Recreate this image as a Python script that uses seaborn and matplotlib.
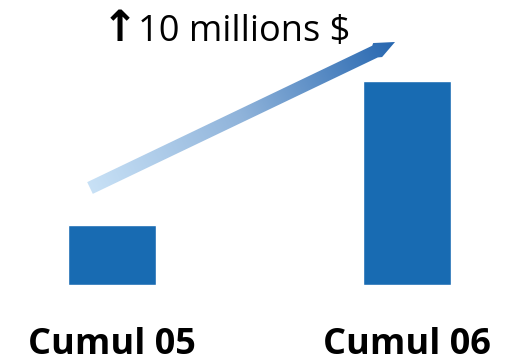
import numpy as np
import pandas as pd
import matplotlib
matplotlib.use("Agg")
import matplotlib.pyplot as plt
from matplotlib.patches import Polygon
import seaborn as sns

categories = ["Cumul 05", "Cumul 06"]
values = [4.2, 14.2]
annotation = "\u219110 millions $"

BAR_COLOR = "#186bb2"

sns.set_theme(style="white")
plt.rcParams["font.family"] = ["Open Sans", "DejaVu Sans"]

W, H = 510, 358
fig = plt.figure(figsize=(W / 100, H / 100), dpi=100)
fig.patch.set_facecolor("white")

# main bar axes
base_px = 285
ax = fig.add_axes([0, (H - base_px) / H, 1, base_px / H])
df = pd.DataFrame({"cat": categories, "val": values})
sns.barplot(data=df, x="cat", y="val", order=categories, color=BAR_COLOR,
            saturation=1, width=0.298, ax=ax)
spacing = 295.0
ax.set_xlim(-112 / spacing, 1 + (W - 407) / spacing)
ax.set_ylim(0, base_px * values[1] / 204.0)
ax.axis("off")

# category labels
for i, c in enumerate(categories):
    ax.text(i, -69 / base_px, c, transform=ax.get_xaxis_transform(), ha="center",
            va="baseline", fontsize=26, fontweight="bold", color="black")

# overlay for arrow + annotation (pixel coordinates)
ov = fig.add_axes([0, 0, 1, 1])
ov.set_xlim(0, W)
ov.set_ylim(H, 0)
ov.axis("off")
ov.patch.set_alpha(0)

tail = np.array([90.0, 188.0])
tip = np.array([395.0, 42.0])
d = tip - tail
L = np.hypot(*d)
u = d / L
n = np.array([-u[1], u[0]])
if n[1] < 0:
    n = -n
pts_local = [(0, -6.5), (316, -6.5), (318, -8.5), (L, 0), (320, 8.0), (316, 6.5), (0, 6.5)]
pts = np.array([tail + s * u + t * n for s, t in pts_local])
poly = Polygon(pts, closed=True, facecolor="none", edgecolor="none")
ov.add_patch(poly)

x0, x1 = pts[:, 0].min() - 2, pts[:, 0].max() + 2
y0, y1 = pts[:, 1].min() - 2, pts[:, 1].max() + 2
gx = np.linspace(x0, x1, 400)
gy = np.linspace(y0, y1, 200)
GX, GY = np.meshgrid(gx, gy)
proj = ((GX - tail[0]) * u[0] + (GY - tail[1]) * u[1]) / L
proj = np.clip(proj, 0, 1)
cmap = matplotlib.colors.LinearSegmentedColormap.from_list(
    "grad", ["#c8e1f6", "#8fb3da", "#2767b0"])
im = ov.imshow(proj, extent=(x0, x1, y1, y0), origin="upper", cmap=cmap,
               vmin=0, vmax=1, aspect="auto", interpolation="bilinear")
im.set_clip_path(poly)
ov.set_xlim(0, W)
ov.set_ylim(H, 0)

arrow_char, rest = annotation[0], annotation[1:]
ov.text(138, 41, arrow_char, ha="right", va="baseline", fontsize=31,
        fontweight="bold", family=["DejaVu Sans"], color="black")
ov.text(138.5, 41, rest, ha="left", va="baseline", fontsize=26, color="black")

fig.savefig("out.png", dpi=100, facecolor="white")
